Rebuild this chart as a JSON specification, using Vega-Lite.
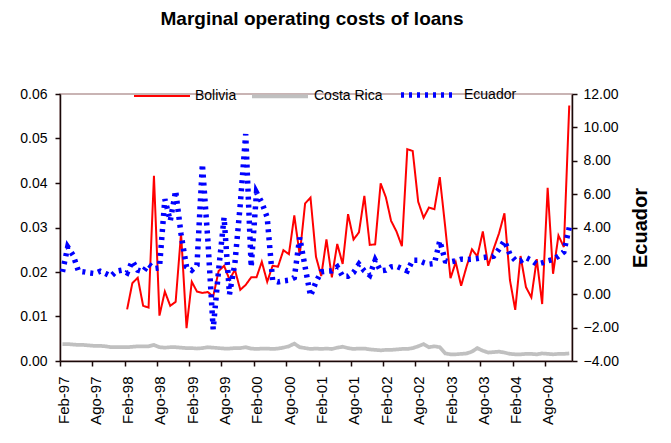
{
  "$schema": "https://vega.github.io/schema/vega-lite/v6.json",
  "width": 512,
  "height": 267,
  "autosize": {"type": "none"},
  "padding": {"left": 60, "top": 94, "right": 99, "bottom": 82},
  "background": "white",
  "title": {"text": "Marginal operating costs of loans", "font": "Liberation Sans", "fontSize": 19, "fontWeight": "bold", "color": "black", "anchor": "middle", "offset": 35, "dx": -4},
  "config": {
    "view": {"stroke": "#b89c9c", "strokeWidth": 1.5},
    "axis": {"labelFont": "Liberation Sans", "labelFontSize": 14, "labelColor": "black", "domainColor": "#1a0808", "domainWidth": 1.5, "tickColor": "#1a0808", "tickWidth": 1.5, "tickSize": 5, "grid": false},
    "legend": {"labelFont": "Liberation Sans", "labelFontSize": 14, "labelColor": "black"}
  },
  "data": {
    "values": [
      {"d":"1997-02","C":0.0038,"E":1.34},{"d":"1997-03","C":0.0038,"E":2.83},{"d":"1997-04","C":0.0037,"E":2.34},{"d":"1997-05","C":0.0036,"E":1.38},{"d":"1997-06","C":0.0036,"E":1.34},{"d":"1997-07","C":0.0035,"E":1.28},{"d":"1997-08","C":0.0034,"E":1.24},{"d":"1997-09","C":0.0034,"E":1.38},{"d":"1997-10","C":0.0033,"E":1.24},{"d":"1997-11","C":0.0031,"E":1.08},{"d":"1997-12","C":0.0031,"E":1.38},{"d":"1998-01","C":0.0031,"E":1.44},
      {"d":"1998-02","B":0.0116,"C":0.0031,"E":1.28},{"d":"1998-03","B":0.0175,"C":0.0032,"E":1.98},{"d":"1998-04","B":0.0187,"C":0.0033,"E":1.44},{"d":"1998-05","B":0.0124,"C":0.0033,"E":1.34},{"d":"1998-06","B":0.0120,"C":0.0033,"E":1.8},{"d":"1998-07","B":0.0416,"C":0.0036,"E":1.54},{"d":"1998-08","B":0.0102,"C":0.0031,"E":1.58},{"d":"1998-09","B":0.0156,"C":0.0030,"E":5.7},{"d":"1998-10","B":0.0124,"C":0.0031,"E":4.4},{"d":"1998-11","B":0.0133,"C":0.0031,"E":6.2},{"d":"1998-12","B":0.0287,"C":0.0030,"E":3.6},
      {"d":"1999-01","B":0.0074,"C":0.0029,"E":1.64},{"d":"1999-02","B":0.0178,"C":0.0029,"E":1.44},{"d":"1999-03","B":0.0156,"C":0.0028,"E":1.74},{"d":"1999-04","B":0.0153,"C":0.0029,"E":7.8},{"d":"1999-05","B":0.0155,"C":0.0031,"E":3.3},{"d":"1999-06","B":0.0145,"C":0.0030,"E":-2.1},{"d":"1999-07","B":0.0202,"C":0.0029,"E":1.44},{"d":"1999-08","B":0.0214,"C":0.0028,"E":4.6},{"d":"1999-09","B":0.0183,"C":0.0028,"E":0.0},{"d":"1999-10","B":0.0205,"C":0.0029,"E":1.84},{"d":"1999-11","B":0.0160,"C":0.0029,"E":5.4},{"d":"1999-12","B":0.0171,"C":0.0031,"E":9.6},
      {"d":"2000-01","B":0.0188,"C":0.0028,"E":1.64},{"d":"2000-02","B":0.0188,"C":0.0027,"E":6.1},{"d":"2000-03","B":0.0223,"C":0.0028,"E":5.5},{"d":"2000-04","B":0.0178,"C":0.0028,"E":4.6},{"d":"2000-05","B":0.0214,"C":0.0027,"E":0.84},{"d":"2000-06","B":0.0212,"C":0.0028,"E":0.74},{"d":"2000-07","B":0.0249,"C":0.0030,"E":0.8},{"d":"2000-08","B":0.0240,"C":0.0033,"E":0.84},{"d":"2000-09","B":0.0327,"C":0.0039,"E":1.0},{"d":"2000-10","B":0.0238,"C":0.0031,"E":3.4},{"d":"2000-11","B":0.0354,"C":0.0029,"E":1.64},{"d":"2000-12","B":0.0367,"C":0.0027,"E":-0.1},
      {"d":"2001-01","B":0.0234,"C":0.0028,"E":0.74},{"d":"2001-02","B":0.0191,"C":0.0027,"E":1.34},{"d":"2001-03","B":0.0273,"C":0.0028,"E":1.38},{"d":"2001-04","B":0.0188,"C":0.0027,"E":1.4},{"d":"2001-05","B":0.0263,"C":0.0030,"E":1.64},{"d":"2001-06","B":0.0218,"C":0.0032,"E":1.08},{"d":"2001-07","B":0.0330,"C":0.0029,"E":1.08},{"d":"2001-08","B":0.0273,"C":0.0027,"E":1.3},{"d":"2001-09","B":0.0289,"C":0.0028,"E":1.8},{"d":"2001-10","B":0.0371,"C":0.0028,"E":1.4},{"d":"2001-11","B":0.0261,"C":0.0026,"E":1.14},{"d":"2001-12","B":0.0262,"C":0.0025,"E":2.04},
      {"d":"2002-01","B":0.0399,"C":0.0024,"E":1.4},{"d":"2002-02","B":0.0368,"C":0.0025,"E":1.44},{"d":"2002-03","B":0.0315,"C":0.0025,"E":1.64},{"d":"2002-04","B":0.0291,"C":0.0026,"E":1.68},{"d":"2002-05","B":0.0258,"C":0.0027,"E":1.54},{"d":"2002-06","B":0.0476,"C":0.0027,"E":1.4},{"d":"2002-07","B":0.0472,"C":0.0029,"E":2.04},{"d":"2002-08","B":0.0358,"C":0.0033,"E":2.04},{"d":"2002-09","B":0.0322,"C":0.0038,"E":1.9},{"d":"2002-10","B":0.0345,"C":0.0031,"E":1.8},{"d":"2002-11","B":0.0341,"C":0.0033,"E":1.84},{"d":"2002-12","B":0.0413,"C":0.0031,"E":3.2},
      {"d":"2003-01","B":0.0300,"C":0.0017,"E":2.0},{"d":"2003-02","B":0.0186,"C":0.0015,"E":1.94},{"d":"2003-03","B":0.0222,"C":0.0015,"E":2.0},{"d":"2003-04","B":0.0169,"C":0.0016,"E":2.1},{"d":"2003-05","B":0.0212,"C":0.0017,"E":2.08},{"d":"2003-06","B":0.0251,"C":0.0021,"E":2.1},{"d":"2003-07","B":0.0235,"C":0.0029,"E":2.14},{"d":"2003-08","B":0.0291,"C":0.0023,"E":2.2},{"d":"2003-09","B":0.0214,"C":0.0019,"E":2.24},{"d":"2003-10","B":0.0252,"C":0.0020,"E":2.28},{"d":"2003-11","B":0.0287,"C":0.0021,"E":2.7},{"d":"2003-12","B":0.0332,"C":0.0019,"E":3.2},
      {"d":"2004-01","B":0.0182,"C":0.0016,"E":2.4},{"d":"2004-02","B":0.0115,"C":0.0015,"E":2.04},{"d":"2004-03","B":0.0236,"C":0.0015,"E":2.0},{"d":"2004-04","B":0.0166,"C":0.0016,"E":2.2},{"d":"2004-05","B":0.0143,"C":0.0016,"E":2.04},{"d":"2004-06","B":0.0229,"C":0.0015,"E":1.8},{"d":"2004-07","B":0.0128,"C":0.0017,"E":1.88},{"d":"2004-08","B":0.0389,"C":0.0016,"E":2.0},{"d":"2004-09","B":0.0196,"C":0.0015,"E":2.08},{"d":"2004-10","B":0.0282,"C":0.0016,"E":2.28},{"d":"2004-11","B":0.0256,"C":0.0016,"E":2.54},{"d":"2004-12","B":0.0574,"C":0.0017,"E":4.0}
    ],
    "format": {"parse": {"d": "utc:'%Y-%m'"}}
  },
  "transform": [
    {"fold": ["B", "C", "E"], "as": ["key", "value"]},
    {"lookup": "key", "from": {"data": {"values": [{"key": "B", "series": "Bolivia"}, {"key": "C", "series": "Costa Rica"}, {"key": "E", "series": "Ecuador"}]}, "key": "key", "fields": ["series"]}}
  ],
  "encoding": {
    "x": {
      "field": "d", "timeUnit": "utcyearmonth", "type": "temporal", "bandPosition": 0.5, "title": null,
      "scale": {"domain": [{"year": 1997, "month": 2, "date": 1, "utc": true}, {"year": 2005, "month": 1, "date": 1, "utc": true}]},
      "axis": {
        "values": [
          {"year":1997,"month":2,"date":1,"utc":true},{"year":1997,"month":8,"date":1,"utc":true},
          {"year":1998,"month":2,"date":1,"utc":true},{"year":1998,"month":8,"date":1,"utc":true},
          {"year":1999,"month":2,"date":1,"utc":true},{"year":1999,"month":8,"date":1,"utc":true},
          {"year":2000,"month":2,"date":1,"utc":true},{"year":2000,"month":8,"date":1,"utc":true},
          {"year":2001,"month":2,"date":1,"utc":true},{"year":2001,"month":8,"date":1,"utc":true},
          {"year":2002,"month":2,"date":1,"utc":true},{"year":2002,"month":8,"date":1,"utc":true},
          {"year":2003,"month":2,"date":1,"utc":true},{"year":2003,"month":8,"date":1,"utc":true},
          {"year":2004,"month":2,"date":1,"utc":true},{"year":2004,"month":8,"date":1,"utc":true}
        ],
        "labelExpr": "(utcFormat(datum.value, '%m') == '02' ? 'Feb' : 'Ago') + '-' + utcFormat(datum.value, '%y')",
        "labelAngle": -90, "labelPadding": 10, "labelOffset": 3, "labelFontSize": 15, "labelBound": false, "labelOverlap": false, "labelFlush": false
      }
    },
    "color": {"field": "series", "type": "nominal", "scale": {"domain": ["Bolivia", "Costa Rica", "Ecuador"], "range": ["#ff0000", "#c0c0c0", "#0000ff"]},
      "legend": {"title": null, "orient": "none", "legendX": 73, "legendY": -30, "direction": "horizontal", "symbolType": "stroke", "symbolSize": 3136, "labelOffset": 4, "columnPadding": 7, "symbolStrokeWidth": 3}},
    "strokeDash": {"field": "series", "type": "nominal", "scale": {"domain": ["Bolivia", "Costa Rica", "Ecuador"], "range": [[1, 0], [1, 0], [3, 5]]}, "legend": {"title": null}},
    "strokeWidth": {"field": "series", "type": "nominal", "scale": {"domain": ["Bolivia", "Costa Rica", "Ecuador"], "range": [2, 5.5, 2.5]}, "legend": {"title": null}}
  },
  "layer": [
    {
      "transform": [{"filter": "datum.series != 'Ecuador'"}],
      "mark": {"type": "line", "clip": true},
      "encoding": {
        "y": {"field": "value", "type": "quantitative", "title": null,
          "scale": {"domain": [0, 0.06], "nice": false},
          "axis": {"values": [0, 0.01, 0.02, 0.03, 0.04, 0.05, 0.06], "format": ".2f", "labelPadding": 8}}
      }
    },
    {
      "transform": [{"filter": "datum.series == 'Ecuador'"}],
      "mark": {"type": "line", "clip": true},
      "encoding": {
        "y": {"field": "value", "type": "quantitative", "title": "Ecuador",
          "scale": {"domain": [-4, 12], "nice": false},
          "axis": {"orient": "right", "values": [-4, -2, 0, 2, 4, 6, 8, 10, 12], "format": ".2f", "labelPadding": 6,
            "titleFont": "Liberation Sans", "titleFontSize": 20, "titleFontWeight": "bold", "titleAngle": 270, "titleBaseline": "top", "titlePadding": 12, "titleColor": "black"}}
      }
    }
  ],
  "resolve": {"scale": {"y": "independent"}}
}
